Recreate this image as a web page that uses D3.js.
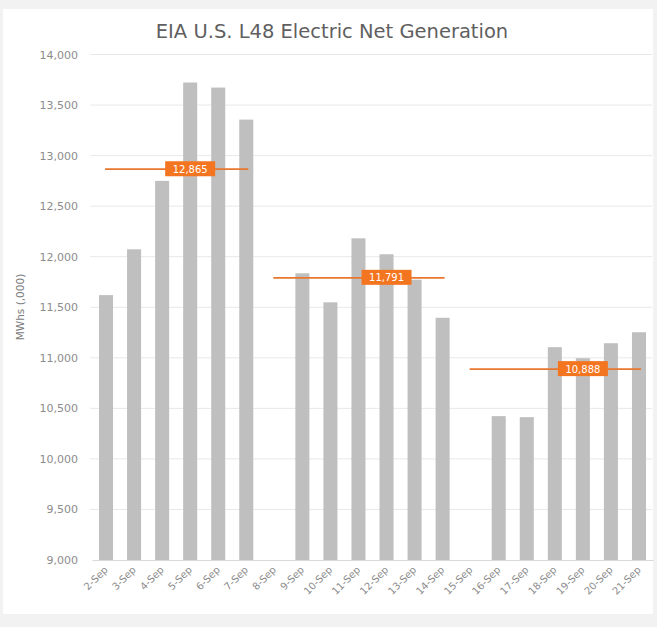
<!DOCTYPE html>
<html>
<head>
<meta charset="utf-8">
<script src="https://cdn.jsdelivr.net/npm/d3@7"></script>
<style>
  html, body { margin: 0; padding: 0; background: #f2f2f2; }
  svg { display: block; }
</style>
</head>
<body>
<svg id="chart" width="657" height="627"></svg>
<script>
const categories = ["2-Sep","3-Sep","4-Sep","5-Sep","6-Sep","7-Sep","8-Sep","9-Sep","10-Sep","11-Sep",
  "12-Sep","13-Sep","14-Sep","15-Sep","16-Sep","17-Sep","18-Sep","19-Sep","20-Sep","21-Sep"];
const generation = [11620, 12073, 12750, 13723, 13673, 13356, null, 11836, 11549, 12182,
  12024, 11772, 11396, null, 10423, 10413, 11105, 10996, 11144, 11253];
const weekAvg = [12865, 11791, 10888];
const weekStart = ["2-Sep", "8-Sep", "15-Sep"];
const weekEnd = ["7-Sep", "14-Sep", "21-Sep"];
const weekLabelAt = ["5-Sep", "12-Sep", "19-Sep"];
const yTicks = [9000, 9500, 10000, 10500, 11000, 11500, 12000, 12500, 13000, 13500, 14000];
const title = "EIA U.S. L48 Electric Net Generation";
const yTitle = "MWhs (,000)";

const font = "'DejaVu Sans', Verdana, sans-serif";
const svg = d3.select("#chart");

svg.append("rect").attr("x", 3).attr("y", 9).attr("width", 650).attr("height", 605).attr("fill", "#ffffff");

const x = d3.scaleBand().domain(categories).range([92, 653]).paddingInner(0.5).paddingOuter(0.25);
const y = d3.scaleLinear().domain([9000, 14000]).range([560, 54.5]);
const cx = c => x(c) + x.bandwidth() / 2;

// gridlines
svg.append("g").selectAll("line").data(yTicks.slice(1)).join("line")
  .attr("x1", 90).attr("x2", 652)
  .attr("y1", d => y(d)).attr("y2", d => y(d))
  .attr("stroke", "#e8e8e8").attr("stroke-width", 1);

// y axis
const yAxis = svg.append("g").attr("transform", "translate(84,0)")
  .call(d3.axisLeft(y).tickValues(yTicks).tickFormat(d3.format(",")).tickSize(0).tickPadding(6));
yAxis.select(".domain").remove();
yAxis.selectAll("text").attr("font-family", font).attr("font-size", 11).attr("fill", "#8c8c8c");

// bars
svg.append("g").selectAll("rect").data(categories.map((c, i) => ({c, v: generation[i]})).filter(d => d.v != null))
  .join("rect")
  .attr("x", d => x(d.c)).attr("width", x.bandwidth())
  .attr("y", d => y(d.v)).attr("height", d => y(9000) - y(d.v))
  .attr("fill", "#bfbfbf");

// x axis
const xAxis = svg.append("g").attr("transform", "translate(0,560)")
  .call(d3.axisBottom(x).tickSize(0).tickPadding(6));
xAxis.select(".domain").attr("stroke", "#d9d9d9");
xAxis.selectAll("text")
  .attr("font-family", font).attr("font-size", 10).attr("fill", "#8c8c8c")
  .attr("text-anchor", "end")
  .attr("dy", "0.35em")
  .attr("transform", "translate(0,8) rotate(-45)")
  .attr("x", 0).attr("y", 0);

// weekly average lines
const weeks = weekAvg.map((v, i) => ({v, s: weekStart[i], e: weekEnd[i], l: weekLabelAt[i]}));
svg.append("g").selectAll("line").data(weeks).join("line")
  .attr("x1", d => cx(d.s) - 1).attr("x2", d => cx(d.e) + 2)
  .attr("y1", d => y(d.v)).attr("y2", d => y(d.v))
  .attr("stroke", "#e8772e").attr("stroke-width", 1.75);

const lab = svg.append("g").selectAll("g").data(weeks).join("g")
  .attr("transform", d => `translate(${cx(d.l)},${y(d.v)})`);
lab.append("rect").attr("x", -25).attr("y", -8).attr("width", 50).attr("height", 15)
  .attr("fill", "#f47520");
lab.append("text").attr("text-anchor", "middle").attr("y", 3.5)
  .attr("font-family", font).attr("font-size", 10).attr("fill", "#ffffff")
  .text(d => d3.format(",")(d.v));

// title
svg.append("text").attr("x", 332).attr("y", 38).attr("text-anchor", "middle")
  .attr("font-family", font).attr("font-size", 19.5).attr("fill", "#5f5f5f")
  .text(title);

// y title
svg.append("text").attr("transform", "translate(24,307) rotate(-90)").attr("text-anchor", "middle")
  .attr("font-family", font).attr("font-size", 10.5).attr("fill", "#7a7a7a")
  .text(yTitle);
</script>
</body>
</html>
